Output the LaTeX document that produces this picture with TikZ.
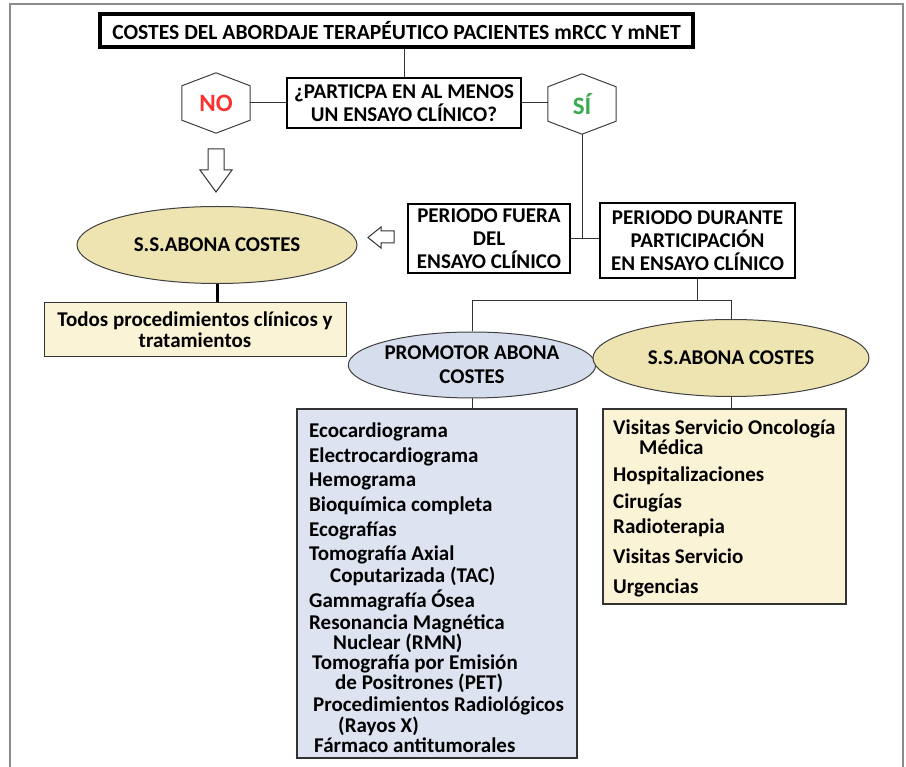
\documentclass[tikz,border=0pt]{standalone}
\usepackage{fontspec}
\setmainfont{Carlito}
\usetikzlibrary{calc,shapes.geometric}
\definecolor{ssfill}{RGB}{238,228,178}
\definecolor{creamfill}{RGB}{251,243,214}
\definecolor{promofill}{RGB}{214,221,236}
\definecolor{bluebox}{RGB}{221,227,240}
\definecolor{noRed}{RGB}{250,50,50}
\definecolor{siGreen}{RGB}{60,170,80}
\definecolor{framegray}{RGB}{140,140,140}
\tikzset{
  txt/.style={font=\bfseries\fontsize{21}{23}\selectfont, align=center, text=black},
  boxnode/.style={draw=black, line width=1.3pt, fill=white, inner sep=0pt, txt},
  ellnode/.style={ellipse, draw=black!75, line width=1pt, inner sep=0pt, txt},
  hexnode/.style={rectangle, draw=none, inner sep=0pt, minimum width=68pt, minimum height=60pt,
                  font=\bfseries\fontsize{25}{27}\selectfont},
  hexline/.style={draw=black!75, line width=1pt, fill=white},
  conn/.style={draw=black!80, line width=1pt},
  listtxt/.style={font=\bfseries\fontsize{21}{21}\selectfont, align=left, inner sep=0pt, anchor=north west},
  blockarrow/.style={draw=black!80, line width=1pt, fill=white, line join=miter}
}
\begin{document}
\begin{tikzpicture}[x=1pt,y=-1pt]
\useasboundingbox (0,0) rectangle (906,767);
% outer frame
\draw[framegray, line width=1.5pt] (10,770) -- (10,4) -- (903,4) -- (903,770);

% nodes
\node[boxnode, line width=3.5pt, minimum width=593pt, minimum height=33pt,
      font=\bfseries\fontsize{21.6}{23}\selectfont] (title) at (396.5,30.5)
  {COSTES DEL ABORDAJE TERAPÉUTICO PACIENTES mRCC Y mNET};
\node[boxnode, minimum width=234pt, minimum height=50pt] (question) at (404,103)
  {¿PARTICPA EN AL MENOS\\UN ENSAYO CLÍNICO?};
\node[hexnode] (no) at (216,103) {};
\node[hexnode] (si) at (582,104) {};
\node[boxnode, minimum width=162pt, minimum height=69pt] (fuera) at (489,238.5)
  {PERIODO FUERA\\DEL\\ENSAYO CLÍNICO};
\node[boxnode, minimum width=195pt, minimum height=75pt] (durante) at (697.5,240.5)
  {PERIODO DURANTE\\PARTICIPACIÓN\\EN ENSAYO CLÍNICO};
\node[ellnode, fill=ssfill, minimum width=280pt, minimum height=77pt] (ssleft) at (217,245)
  {S.S.ABONA COSTES};
\node[boxnode, fill=creamfill, line width=1pt, draw=black!80, minimum width=302pt, minimum height=54pt,
      font=\bfseries\fontsize{21}{21}\selectfont] (todos) at (195,330)
  {Todos procedimientos clínicos y\\tratamientos};
\node[ellnode, fill=promofill, minimum width=226pt, minimum height=66pt,
      font=\bfseries\fontsize{21}{24}\selectfont] (promotor) at (472,365)
  {PROMOTOR ABONA\\COSTES};
\node[ellnode, fill=ssfill, minimum width=276pt, minimum height=77pt] (ssright) at (731,358)
  {S.S.ABONA COSTES};
\node[draw=black!80, line width=1.3pt, fill=bluebox, minimum width=280pt, minimum height=349pt, inner sep=0pt]
  (bluelist) at (437,583.5) {};
\node[draw=black!80, line width=1.3pt, fill=creamfill, minimum width=243pt, minimum height=195pt, inner sep=0pt]
  (ssbox) at (724.5,506.5) {};

% hexagon outlines
\foreach \h in {no,si}{
  \draw[hexline] (\h.north) -- ($(\h.north east)+(0,13)$) -- ($(\h.south east)+(0,-13)$)
     -- (\h.south) -- ($(\h.south west)+(0,-13)$) -- ($(\h.north west)+(0,13)$) -- cycle;
}
\node[hexnode, text=noRed] (noT) at (no) {NO};
\node[hexnode, text=siGreen] (siT) at (si) {SÍ};

% list texts
\node[listtxt] (bluetxt) at (309,423) {%
Ecocardiograma\\[4pt]
Electrocardiograma\\[3pt]
Hemograma\\[4pt]
Bioquímica completa\\[4pt]
Ecografías\\[3pt]
Tomografía Axial\\[1pt]
\hspace*{21pt}Coputarizada (TAC)\\[4pt]
Gammagrafía Ósea\\[1pt]
Resonancia Magnética\\[-1pt]
\hspace*{24pt}Nuclear (RMN)\\[-1pt]
\hspace*{3pt}Tomografía por Emisión\\[-1pt]
\hspace*{26pt}de Positrones (PET)\\[1pt]
\hspace*{4pt}Procedimientos Radiológicos\\[0pt]
\hspace*{29pt}(Rayos X)\\[-1pt]
\hspace*{5pt}Fármaco antitumorales};
\node[listtxt] (sstxt) at (613,420) {%
Visitas Servicio Oncología\\[-1pt]
\hspace*{26pt}Médica\\[6pt]
Hospitalizaciones\\[6pt]
Cirugías\\[4pt]
Radioterapia\\[9pt]
Visitas Servicio\\[9pt]
Urgencias};

% connectors
\draw[conn] (question.north) -- (question.north |- title.south);
\draw[conn] (no.east) -- (question.west |- no.east);
\draw[conn] (question.east) -- (si.west |- question.east);
\coordinate (jA) at (si.south |- fuera.east);
\draw[conn] (si.south) -- (jA);
\draw[conn] (fuera.east) -- (durante.west |- fuera.east);
\coordinate (bus) at (durante.south |- 0,301);
\draw[conn] (durante.south) -- (bus);
\draw[conn] (promotor.north) -- (promotor.north |- bus) -- (ssright.north |- bus) -- (ssright.north);
\draw[black, line width=3pt] (ssleft.south) -- (todos.north -| ssleft.south);
\draw[conn] (promotor.south) -- (bluelist.north -| promotor.south);
\draw[conn] (ssright.south) -- (ssbox.north -| ssright.south);

% block arrows
\draw[blockarrow] (208,149) -- (224,149) -- (224,170) -- (232,170) -- (216,192) -- (200,170) -- (208,170) -- cycle;
\draw[blockarrow] (394,231) -- (394,243) -- (381,243) -- (381,248) -- (368,237.5) -- (381,227) -- (381,231) -- cycle;
\end{tikzpicture}
\end{document}
